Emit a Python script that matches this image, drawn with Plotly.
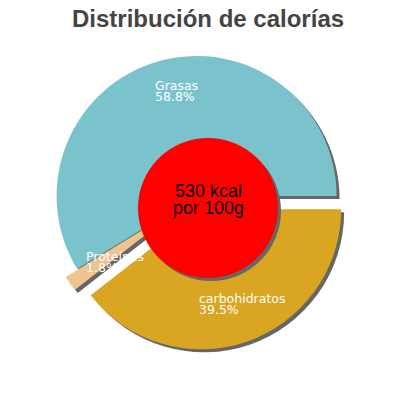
import plotly.graph_objects as go

# calorie split per 100 g
labels = ['Grasas', 'Proteínas', 'carbohidratos']
values = [58.8, 1.8, 39.5]
colors = ['#7bc3cc', '#efc48f', '#daa520']
pulls = [0, 0.1, 0.1]
kcal = 530
center_lines = [f'{kcal} kcal', 'por 100g']
title = 'Distribución de calorías'

W = 400
H = 400
px_x = 1.0 / W
px_y = 1.0 / H

dom_x = [0.0865, 0.8565]
dom_y = [0.145, 0.915]
sh = 3  # shadow offset in px

# plotly's counterclockwise mode lays the first slice clockwise of `rotation`,
# so shift back by its angle to make Grasas start at 3 o'clock
rot = 90 - 360 * values[0] / sum(values)


def tight(lines, size, spacing):
    # line breaks step 1.3em of the base font, so pick a small base size
    # and set the real glyph size on a span -> tighter line spacing
    inner = '<br>'.join(f'<span style="font-size:{size}px">{t}</span>' for t in lines)
    return inner, spacing / 1.3


fig = go.Figure()

# drop shadow: same pie in grey, nudged down-right
fig.add_trace(go.Pie(
    labels=labels, values=values, sort=False, direction='counterclockwise',
    rotation=rot, pull=pulls, textinfo='none', hoverinfo='skip',
    marker=dict(colors=['#666666'] * len(values), line=dict(width=0)),
    domain=dict(x=[dom_x[0] + sh * px_x, dom_x[1] + sh * px_x],
                y=[dom_y[0] - sh * px_y, dom_y[1] - sh * px_y]),
    showlegend=False,
))

fig.add_trace(go.Pie(
    labels=labels, values=values, sort=False, direction='counterclockwise',
    rotation=rot, pull=pulls, textinfo='none',
    marker=dict(colors=colors, line=dict(width=0)),
    domain=dict(x=dom_x, y=dom_y),
    showlegend=False,
))

# red disc in the middle (with its own shadow)
cx, cy, r = 200, 200, 70
for dx, col in [(sh, '#666666'), (0, '#ff0000')]:
    fig.add_shape(type='circle', xref='paper', yref='paper',
                  x0=(cx - r + dx) * px_x, x1=(cx + r + dx) * px_x,
                  y0=1 - (cy + r + dx) * px_y, y1=1 - (cy - r + dx) * px_y,
                  fillcolor=col, line=dict(width=0), layer='above')

txt, base = tight(center_lines, 18, 17)
fig.add_annotation(x=cx * px_x, y=1 - 191 * px_y, xref='paper', yref='paper',
                   text=txt, showarrow=False, yanchor='middle', borderpad=0,
                   font=dict(family='Liberation Sans, Arial', size=base, color='black'))

# slice labels (name line, then percent line)
label_pos = {'Grasas': (146, 83), 'Proteínas': (77, 253.5), 'carbohidratos': (190, 296)}
for lab, v in zip(labels, values):
    x, y = label_pos[lab]
    txt, base = tight([lab, f'{v}%'], 12.5, 11)
    fig.add_annotation(x=x * px_x, y=1 - y * px_y, xref='paper', yref='paper',
                       text=txt, showarrow=False, align='left',
                       xanchor='left', yanchor='middle', borderpad=0,
                       font=dict(family='DejaVu Sans', size=base, color='white'))

# title as a plain annotation, close to the top edge like the original
fig.add_annotation(x=0.5, y=1 - 11 * px_y, xref='paper', yref='paper',
                   text=f'<b>{title}</b>', showarrow=False, yanchor='middle',
                   borderpad=0,
                   font=dict(family='Liberation Sans, Arial', size=24, color='#444444'))

fig.update_layout(
    width=W, height=H,
    margin=dict(l=0, r=0, t=0, b=0),
    paper_bgcolor='white', plot_bgcolor='white',
)

fig.write_html("out.html")
